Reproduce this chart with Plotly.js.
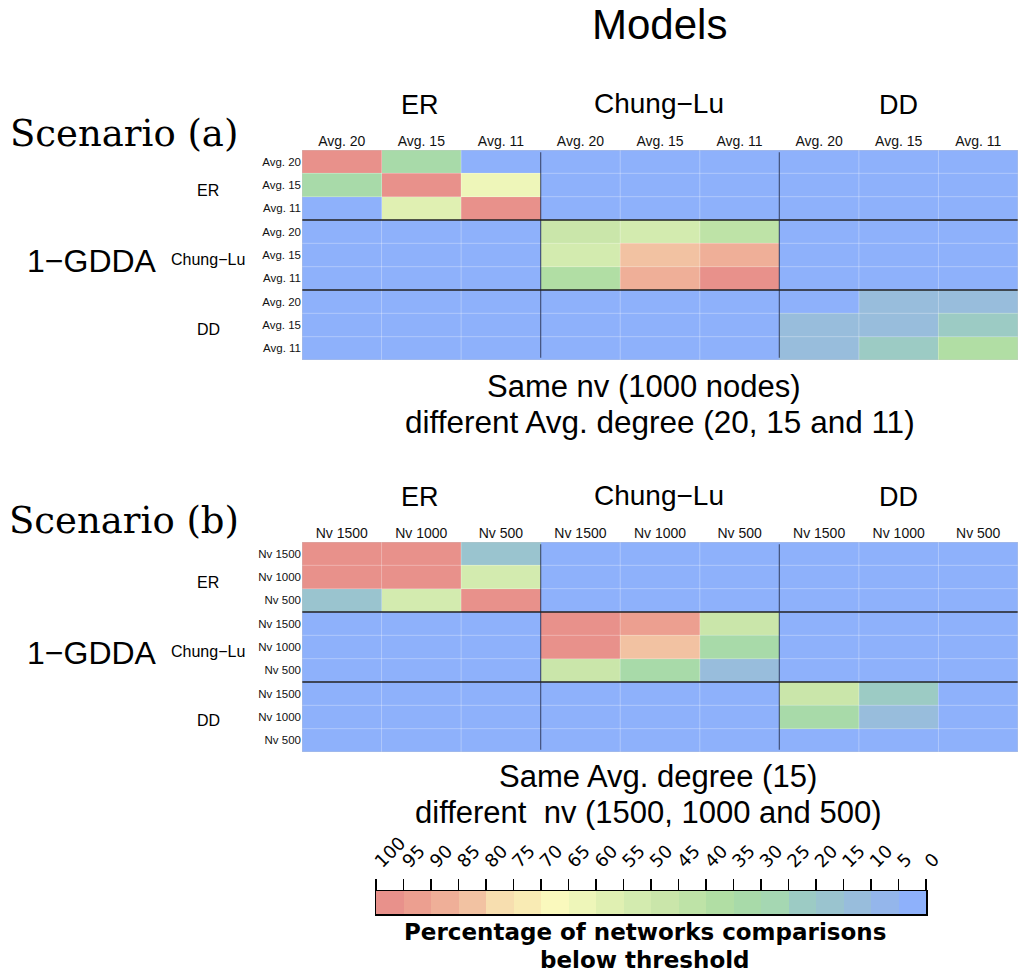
<!DOCTYPE html>
<html>
<head>
<meta charset="utf-8">
<script src="https://cdn.plot.ly/plotly-3.0.1.min.js"></script>
<style>html,body{margin:0;padding:0;background:#fff;}#chart{width:1018px;height:974px;}</style>
</head>
<body>
<div id="chart"></div>
<script>
// ---------- data ----------
const modelGroups = ['ER', 'Chung\u2212Lu', 'DD'];
const labelsA = ['Avg. 20', 'Avg. 15', 'Avg. 11', 'Avg. 20', 'Avg. 15', 'Avg. 11', 'Avg. 20', 'Avg. 15', 'Avg. 11'];
const labelsB = ['Nv 1500', 'Nv 1000', 'Nv 500', 'Nv 1500', 'Nv 1000', 'Nv 500', 'Nv 1500', 'Nv 1000', 'Nv 500'];

// percentage of comparisons below threshold, rows top->bottom, cols left->right
const valuesA = [
  [98, 32, 2, 2, 2, 2, 2, 2, 2],
  [32, 98, 62, 2, 2, 2, 2, 2, 2],
  [2, 57, 98, 2, 2, 2, 2, 2, 2],
  [2, 2, 2, 48, 52, 42, 2, 2, 2],
  [2, 2, 2, 52, 82, 88, 2, 2, 2],
  [2, 2, 2, 38, 88, 98, 2, 2, 2],
  [2, 2, 2, 2, 2, 2, 2, 12, 12],
  [2, 2, 2, 2, 2, 2, 12, 12, 22],
  [2, 2, 2, 2, 2, 2, 12, 22, 38]
];
const valuesB = [
  [98, 98, 17, 2, 2, 2, 2, 2, 2],
  [98, 98, 52, 2, 2, 2, 2, 2, 2],
  [17, 52, 98, 2, 2, 2, 2, 2, 2],
  [2, 2, 2, 98, 92, 47, 2, 2, 2],
  [2, 2, 2, 98, 82, 32, 2, 2, 2],
  [2, 2, 2, 47, 32, 12, 2, 2, 2],
  [2, 2, 2, 2, 2, 2, 47, 24, 2],
  [2, 2, 2, 2, 2, 2, 32, 12, 2],
  [2, 2, 2, 2, 2, 2, 2, 2, 2]
];

// colour legend: 20 bins of 5 %, from 0-5 up to 95-100
const binColors = ['#8EB1FB', '#94B6EB', '#98BDDC', '#9AC4CF', '#9CCBC4', '#A5D7B2', '#A8DAA9', '#B1DEA4', '#BEE3A7', '#CAE6AA',
                   '#D3EBAF', '#E0F0B2', '#EEF6B9', '#FAF9BD', '#F9EBB4', '#F7DEAF', '#F2C2A2', '#EFAF98', '#EC9F90', '#E8918B'];
const binCenters = [2.5, 7.5, 12.5, 17.5, 22.5, 27.5, 32.5, 37.5, 42.5, 47.5, 52.5, 57.5, 62.5, 67.5, 72.5, 77.5, 82.5, 87.5, 92.5, 97.5];
const legendTicks = [0, 5, 10, 15, 20, 25, 30, 35, 40, 45, 50, 55, 60, 65, 70, 75, 80, 85, 90, 95, 100];

// ---------- build ----------
const W = 1018, H = 974;
const px = x => x / W;
const py = y => 1 - y / H;

const cs = [];
binColors.forEach((c, i) => { cs.push([i / 20, c]); cs.push([(i + 1) / 20, c]); });

const idx = labelsA.map((_, i) => i);

function heat(z, xa, ya) {
  return {type: 'heatmap', z: z, x: idx, y: idx, xaxis: xa, yaxis: ya, colorscale: cs, zmin: 0, zmax: 100,
          showscale: false, hoverinfo: 'z'};
}
const traces = [
  heat(valuesA, 'x', 'y'),
  heat(valuesB, 'x2', 'y2'),
  {type: 'heatmap', z: [binCenters], x: binCenters, y: [0], xaxis: 'x3', yaxis: 'y3', colorscale: cs, zmin: 0, zmax: 100,
   showscale: false, hoverinfo: 'z'}
];

const sans = 'Liberation Sans, Arial, sans-serif';
function xax(dom, labels, anchor) {
  return {domain: dom, anchor: anchor, side: 'top', range: [-0.5, 8.5], tickvals: idx, ticktext: labels,
          ticks: '', showgrid: false, zeroline: false, showline: false, tickfont: {family: sans, size: 14, color: '#111'}, fixedrange: true};
}
function yax(dom, labels, anchor) {
  return {domain: dom, anchor: anchor, range: [8.5, -0.5], tickvals: idx, ticktext: labels,
          ticks: '', showgrid: false, zeroline: false, showline: false, tickfont: {family: sans, size: 11.5, color: '#111'}, fixedrange: true};
}

const shapes = [];
function grid(xr, yr) {
  for (let k = 0; k < 8; k++) {
    const v = k + 0.5;
    const major = (k === 2 || k === 5);
    if (!major) {
      shapes.push({type: 'line', xref: xr, yref: yr, x0: v, x1: v, y0: -0.5, y1: 8.5, line: {color: 'rgba(255,255,255,0.3)', width: 1}});
      shapes.push({type: 'line', xref: xr, yref: yr, x0: -0.5, x1: 8.5, y0: v, y1: v, line: {color: 'rgba(255,255,255,0.3)', width: 1}});
    }
  }
  [2.5, 5.5].forEach(v => {
    shapes.push({type: 'line', xref: xr, yref: yr, x0: v, x1: v, y0: -0.4, y1: 8.4, line: {color: 'rgba(40,50,80,0.75)', width: 1.2}});
    shapes.push({type: 'line', xref: xr, yref: yr, x0: -0.5, x1: 8.5, y0: v, y1: v, line: {color: '#222', width: 1.5}});
  });
  // faint outer edge
  shapes.push({type: 'rect', xref: xr, yref: yr, x0: -0.5, x1: 8.5, y0: -0.5, y1: 8.5, line: {color: 'rgba(200,200,200,0.6)', width: 1}});
}
grid('x', 'y');
grid('x2', 'y2');

const ann = [];
function txt(x, y, text, size, font, extra) {
  ann.push(Object.assign({xref: 'paper', yref: 'paper', x: px(x), y: py(y), text: text, showarrow: false,
    xanchor: 'center', yanchor: 'middle', font: {family: font || sans, size: size, color: '#000'}}, extra || {}));
}
txt(659, 24, 'Models', 42);
const serif = 'DejaVu Serif, serif';
[[133, 105, 261, 190, 259, 329, 'Scenario (a)'], [520, 497, 653, 582, 651, 720, 'Scenario (b)']].forEach(r => {
  txt(124, r[0], r[6], 37, serif);
  txt(420, r[1], modelGroups[0], 27);
  txt(659, r[1] - 2, modelGroups[1], 28);
  txt(898, r[1], modelGroups[2], 27);
  txt(92, r[2], '1\u2212GDDA', 32);
  txt(208, r[3], modelGroups[0], 16);
  txt(208, r[4], modelGroups[1], 16);
  txt(208, r[5], modelGroups[2], 16);
});
txt(644, 386, 'Same nv (1000 nodes)', 31);
txt(660, 422, 'different Avg. degree (20, 15 and 11)', 31.5);
txt(658, 776, 'Same Avg. degree (15)', 31);
txt(648, 812, 'different  nv (1500, 1000 and 500)', 31);
txt(645, 932, '<b>Percentage of networks comparisons</b>', 23, 'DejaVu Sans, sans-serif');
txt(645, 960, '<b>below threshold</b>', 23, 'DejaVu Sans, sans-serif');

const layout = {
  width: W, height: H, margin: {l: 0, r: 0, t: 0, b: 0}, paper_bgcolor: '#fff', plot_bgcolor: '#fff', showlegend: false,
  xaxis: xax([px(302), 1], labelsA, 'y'),
  yaxis: yax([py(360), py(150)], labelsA, 'x'),
  xaxis2: xax([px(302), 1], labelsB, 'y2'),
  yaxis2: yax([py(752), py(542)], labelsB, 'x2'),
  xaxis3: {domain: [px(376), px(926)], anchor: 'y3', side: 'top', range: [100, 0], tickvals: legendTicks,
           ticks: 'outside', ticklen: 11, tickcolor: '#000', tickwidth: 1.2, tickangle: -45,
           tickfont: {family: 'DejaVu Sans, sans-serif', size: 18, color: '#000'},
           showline: true, mirror: true, linecolor: '#000', linewidth: 1.5, showgrid: false, zeroline: false, fixedrange: true},
  yaxis3: {domain: [py(914), py(891)], anchor: 'x3', range: [-0.5, 0.5], showticklabels: false, ticks: '',
           showline: true, mirror: true, linecolor: '#000', linewidth: 1.5, showgrid: false, zeroline: false, fixedrange: true},
  shapes: shapes,
  annotations: ann
};
Plotly.newPlot('chart', traces, layout, {displayModeBar: false, staticPlot: true});
</script>
</body>
</html>
